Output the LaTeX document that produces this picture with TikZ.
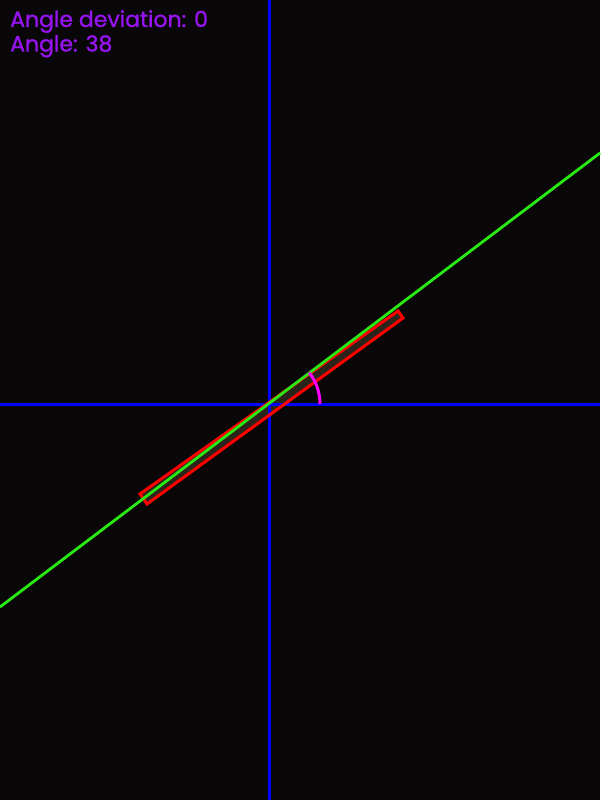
\documentclass[tikz,border=0pt]{standalone}
\usepackage{fontspec}
\newfontfamily\lblfont{Poppins}[FakeBold=1.2]
\definecolor{bg}{RGB}{10,7,9}
\definecolor{axisblue}{RGB}{0,0,255}
\definecolor{fitgreen}{RGB}{40,235,20}
\definecolor{boxred}{RGB}{255,0,0}
\definecolor{arcmag}{RGB}{255,0,255}
\definecolor{txtpurple}{RGB}{150,20,240}
\definecolor{glow}{RGB}{70,60,40}
\begin{document}
\begin{tikzpicture}[x=1pt,y=-1pt,
  axis/.style={axisblue,line width=3pt},
  fitline/.style={fitgreen,line width=2.8pt},
  boxline/.style={boxred,line width=3pt,line join=miter},
  arcline/.style={arcmag,line width=3pt},
  label/.style={txtpurple,anchor=north west,inner sep=0pt,font=\lblfont\fontsize{22}{22}\selectfont}]
\fill[bg] (0,0) rectangle (600,800);
\useasboundingbox (0,0) rectangle (600,800);
% axes
\coordinate (vt) at (269,0);
\coordinate (vb) at (269,800);
\coordinate (hl) at (0,404);
\coordinate (hr) at (600,404);
\coordinate (c) at (269,404);
% rectangle corners
\coordinate (r1) at (140,494);
\coordinate (r2) at (398,311);
\coordinate (r3) at (403,318);
\coordinate (r4) at (147,504);
\fill[glow,opacity=0.55] (r1) -- (r2) -- (r3) -- (r4) -- cycle;
\draw[axis] (vt) -- (vb);
\draw[axis] (hl) -- (hr);
\draw[boxline] (r1) -- (r2) -- (r3) -- (r4) -- cycle;
% fitted line
\coordinate (g1) at (0,607);
\coordinate (g2) at (600,153);
\draw[fitline] (g1) -- (g2);
% angle arc
\coordinate (a0) at (320,404);
\draw[arcline] (a0) arc[start angle=0,end angle=-38,radius=51];
\node[label] (t1) at (10,10) {Angle deviation: 0};
\node[label] (t2) at (10,35) {Angle: 38};
\end{tikzpicture}
\end{document}
